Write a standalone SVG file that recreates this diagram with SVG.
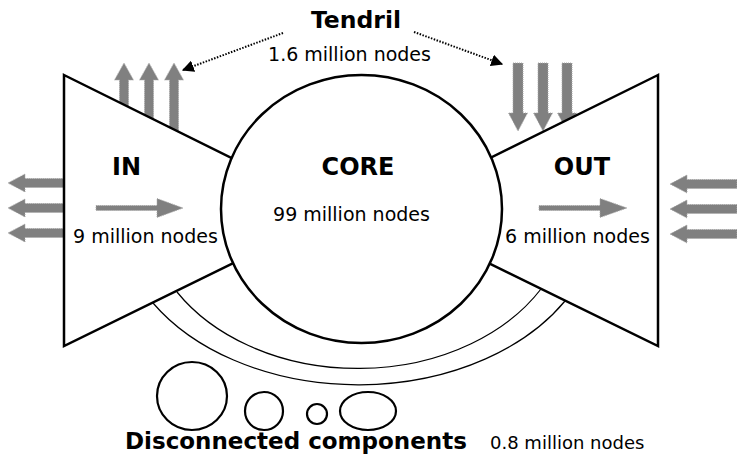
<svg xmlns="http://www.w3.org/2000/svg" width="737" height="467" viewBox="0 0 737 467">
<style>
.ga{fill:#808080;stroke:#a8a8a8;stroke-width:1;stroke-dasharray:1 1}
.shape{fill:#fff;stroke:#000;stroke-width:2.5;stroke-linejoin:miter}
.arc{fill:none;stroke:#000;stroke-width:1.2}
.cc{fill:none;stroke:#000;stroke-width:2.2}
.conn{fill:none;stroke:#000;stroke-width:2;stroke-dasharray:1.5 1.5}
.b{font-family:"DejaVu Sans",Verdana,sans-serif;font-weight:bold;fill:#000}
.r{font-family:"DejaVu Sans",Verdana,sans-serif;fill:#000}
</style>
<defs>
<marker id="ah" viewBox="0 0 10 10" refX="9" refY="5" markerWidth="6" markerHeight="6" orient="auto" markerUnits="strokeWidth">
<path d="M0,0 L10,5 L0,10 z" fill="#000"/>
</marker>
</defs>
<rect width="737" height="467" fill="#fff"/>
<g id="tendril-in-arrows">
<polygon class="ga" points="119.5,140 119.5,80 114.5,80 124,63 133.5,80 128.5,80 128.5,140"/>
<polygon class="ga" points="144.5,140 144.5,80 139.5,80 149,63 158.5,80 153.5,80 153.5,140"/>
<polygon class="ga" points="169.5,140 169.5,80 164.5,80 174,63 183.5,80 178.5,80 178.5,140"/>
</g>
<g id="tendril-out-arrows">
<polygon class="ga" points="513,63 523,63 523,113 527.5,113 518,131 508.5,113 513,113"/>
<polygon class="ga" points="538,63 548,63 548,113 552.5,113 543,131 533.5,113 538,113"/>
<polygon class="ga" points="562,63 572,63 572,113 576.5,113 567,131 557.5,113 562,113"/>
</g>
<g id="in-leaving-arrows">
<polygon class="ga" points="70,178.5 25,178.5 25,174 8,183 25,192 25,187.5 70,187.5"/>
<polygon class="ga" points="70,203.5 25,203.5 25,199 8,208 25,217 25,212.5 70,212.5"/>
<polygon class="ga" points="70,228.5 25,228.5 25,224 8,233 25,242 25,237.5 70,237.5"/>
</g>
<g id="out-entering-arrows">
<polygon class="ga" points="737,179.5 687,179.5 687,175 670,184 687,193 687,188.5 737,188.5"/>
<polygon class="ga" points="737,204.5 687,204.5 687,200 670,209 687,218 687,213.5 737,213.5"/>
<polygon class="ga" points="737,229.5 687,229.5 687,225 670,234 687,243 687,238.5 737,238.5"/>
</g>
<g id="in">
<polygon class="shape" points="64,75 260,172 260,250 64,346"/>
</g>
<g id="out">
<polygon class="shape" points="658,75 470,168 470,254 658,346"/>
</g>
<g id="tubes">
<path class="arc" d="M153,303 A240,170 0 0 0 565,301"/>
<path class="arc" d="M177,292 A212,160 0 0 0 541,289"/>
</g>
<g id="core">
<ellipse class="shape" cx="361.5" cy="209" rx="140.5" ry="134"/>
<text class="b" x="358" y="175" font-size="24" text-anchor="middle">CORE</text>
<text class="r" x="351.5" y="221" font-size="19" text-anchor="middle">99 million nodes</text>
</g>
<g id="in-labels">
<polygon class="ga" points="96,205.5 157,205.5 157,198.5 183,208 157,217.5 157,210.5 96,210.5"/>
<text class="b" x="126.5" y="175" font-size="24" text-anchor="middle">IN</text>
<text class="r" x="145.5" y="243" font-size="19" text-anchor="middle">9 million nodes</text>
</g>
<g id="out-labels">
<polygon class="ga" points="539,205.5 600,205.5 600,198.5 627,208 600,217.5 600,210.5 539,210.5"/>
<text class="b" x="582" y="175" font-size="24" text-anchor="middle">OUT</text>
<text class="r" x="577.5" y="243" font-size="19" text-anchor="middle">6 million nodes</text>
</g>
<g id="tendril">
<text class="b" x="356" y="28" font-size="23.5" text-anchor="middle">Tendril</text>
<text class="r" x="349.5" y="61" font-size="19" text-anchor="middle">1.6 million nodes</text>
</g>
<g id="connectors">
<path class="conn" d="M283,33 L183,70" marker-end="url(#ah)"/>
<path class="conn" d="M414,32 L502,64" marker-end="url(#ah)"/>
</g>
<g id="disconnected">
<ellipse class="cc" cx="192" cy="396" rx="35" ry="34"/>
<circle class="cc" cx="264" cy="411" r="19"/>
<circle class="cc" cx="317" cy="414" r="10"/>
<ellipse class="cc" cx="368" cy="411" rx="28" ry="19"/>
<text class="b" x="125" y="449" font-size="23">Disconnected components</text>
<text class="r" x="490" y="449" font-size="18">0.8 million nodes</text>
</g>
</svg>
